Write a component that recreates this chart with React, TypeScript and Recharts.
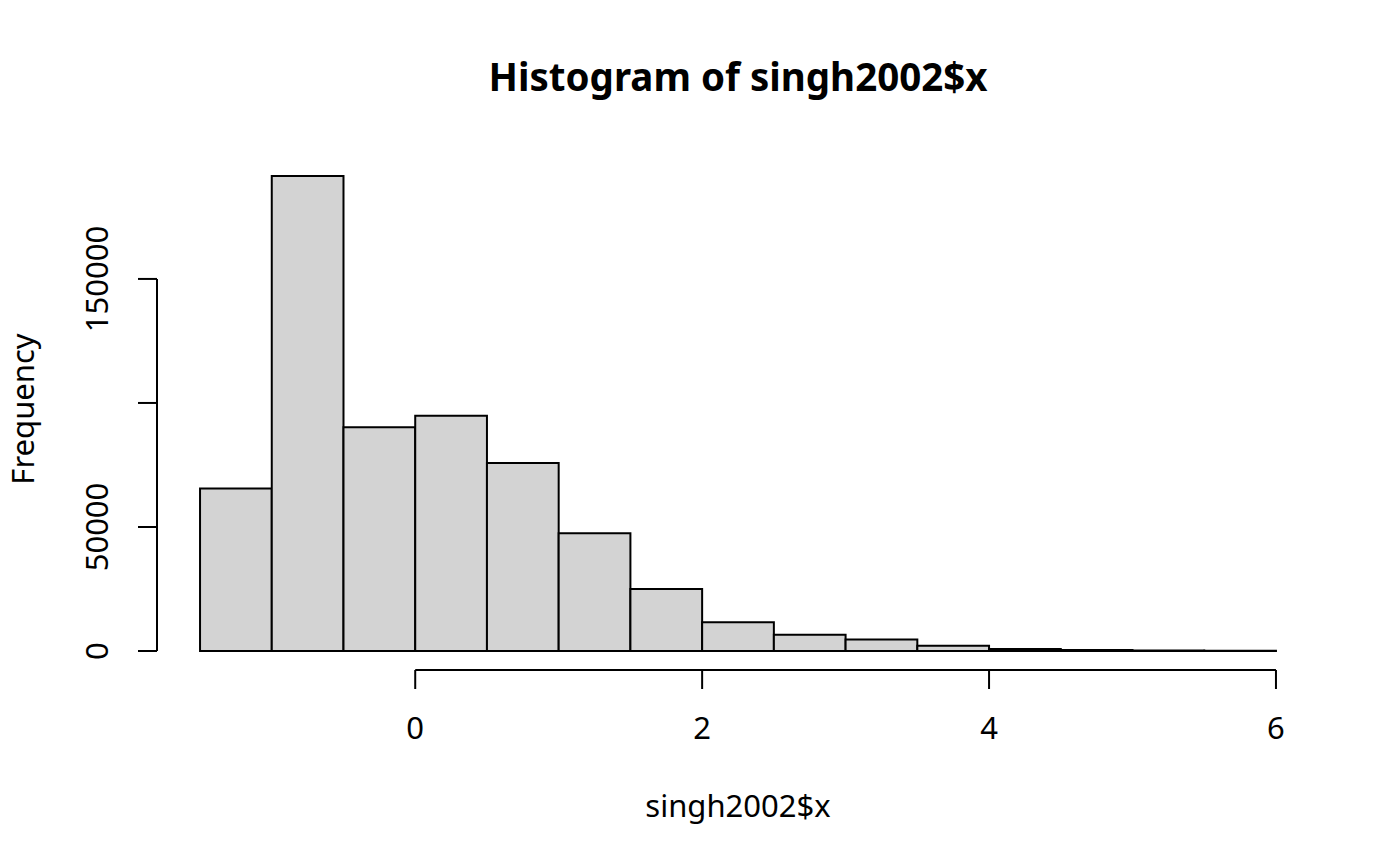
import React from "react";
import { ComposedChart, XAxis, YAxis, ReferenceArea, ReferenceLine } from "recharts";

// histogram bins of singh2002$x (width 0.5)
const binStarts = [-1.5, -1, -0.5, 0, 0.5, 1, 1.5, 2, 2.5, 3, 3.5, 4, 4.5, 5, 5.5];
const binEnds = [-1, -0.5, 0, 0.5, 1, 1.5, 2, 2.5, 3, 3.5, 4, 4.5, 5, 5.5, 6];
const counts = [65500, 191500, 90200, 94800, 75800, 47500, 25000, 11600, 6600, 4600, 2100, 800, 450, 200, 100];

const xTicks = [0, 2, 4, 6];
const yTicks = [0, 50000, 100000, 150000];
const yTickLabels = ["0", "50000", "", "150000"]; // R drops the overlapping 100000 label

const title = "Histogram of singh2002$x";
const xTitle = "singh2002$x";
const yTitle = "Frequency";

// R pads the data range by 4% on each side
const xMin = binStarts[0];
const xMax = binEnds[binEnds.length - 1];
const xPad = (xMax - xMin) * 0.04;
const yMax = Math.max(...counts);
const yPad = yMax * 0.04;
const xDomain = [xMin - xPad, xMax + xPad];
const yDomain = [-yPad, yMax + yPad];

const FONT = "'Noto Sans', sans-serif";

const XTick = (props: any) => {
  const { x, y, payload } = props;
  return (
    <text x={x} y={y} dy={48} textAnchor="middle" fontFamily={FONT} fontSize={31} fill="#000">
      {payload.value}
    </text>
  );
};

const YTick = (props: any) => {
  const { x, y, index } = props;
  const label = yTickLabels[index];
  if (!label) return null;
  const bx = x - 28;
  return (
    <text x={bx} y={y} textAnchor="middle" fontFamily={FONT} fontSize={31} fill="#000" transform={`rotate(-90, ${bx}, ${y})`}>
      {label}
    </text>
  );
};

export default function App() {
  return (
    <div style={{ position: "absolute", left: 0, top: 0, width: 1400, height: 866, background: "#fff" }}>
      <ComposedChart width={1400} height={866} margin={{ top: 157, right: 81, bottom: 116, left: 57 }}>
        <XAxis
          type="number"
          dataKey="x"
          domain={xDomain}
          allowDataOverflow
          ticks={xTicks}
          tickSize={19}
          axisLine={false}
          tickLine={{ stroke: "#000", strokeWidth: 2 }}
          tick={<XTick />}
          height={80}
          interval={0}
        />
        <YAxis
          type="number"
          domain={yDomain}
          allowDataOverflow
          ticks={yTicks}
          tickSize={19}
          axisLine={false}
          tickLine={{ stroke: "#000", strokeWidth: 2 }}
          tick={<YTick />}
          width={100}
          interval={0}
        />
        {counts.map((c, i) => (
          <ReferenceArea
            key={i}
            x1={binStarts[i]}
            x2={binEnds[i]}
            y1={0}
            y2={c}
            fill="#d3d3d3"
            fillOpacity={1}
            stroke="#000"
            strokeWidth={2}
            ifOverflow="visible"
          />
        ))}
        <ReferenceLine
          segment={[{ x: xTicks[0], y: yDomain[0] }, { x: xTicks[xTicks.length - 1], y: yDomain[0] }]}
          stroke="#000"
          strokeWidth={2}
          ifOverflow="visible"
        />
        <ReferenceLine
          segment={[{ x: xDomain[0], y: yTicks[0] }, { x: xDomain[0], y: yTicks[yTicks.length - 1] }]}
          stroke="#000"
          strokeWidth={2}
          ifOverflow="visible"
        />
      </ComposedChart>
      <svg width={1400} height={866} style={{ position: "absolute", left: 0, top: 0, pointerEvents: "none" }}>
        <text x={738} y={91} textAnchor="middle" fontFamily={FONT} fontSize={38.5} fontWeight="bold" fill="#000">
          {title}
        </text>
        <text x={738} y={817} textAnchor="middle" fontFamily={FONT} fontSize={31} fill="#000">
          {xTitle}
        </text>
        <text x={34} y={409} textAnchor="middle" fontFamily={FONT} fontSize={31} fill="#000" transform="rotate(-90, 34, 409)">
          {yTitle}
        </text>
      </svg>
    </div>
  );
}
